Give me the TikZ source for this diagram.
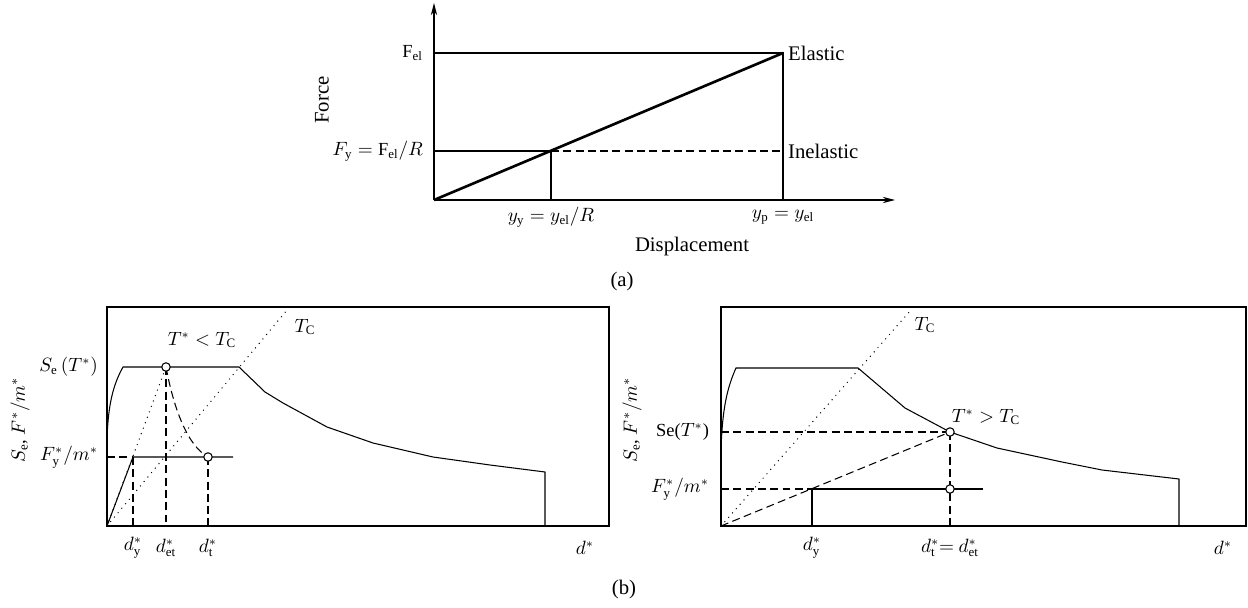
\documentclass[tikz,border=0pt]{standalone}
\usepackage{fontspec}
\setmainfont{Liberation Serif}
\usetikzlibrary{positioning,arrows.meta}

\begin{document}
\begin{tikzpicture}[x=0.02cm,y=-0.02cm,
  thinline/.style={line width=0.6pt},
  thickline/.style={line width=1.5pt},
  dashline/.style={line width=0.6pt,dash pattern=on 4.5pt off 2.5pt},
  dotline/.style={line width=0.8pt,line cap=round,dash pattern=on 0pt off 3.3pt},
  markcirc/.style={circle,draw,line width=0.6pt,fill=white,minimum size=4.8pt,inner sep=0pt},
  lbl/.style={inner sep=1pt,font=\fontsize{10.5}{12}\selectfont},
  txt/.style={inner sep=1pt,font=\fontsize{11.8}{13}\selectfont}]
\useasboundingbox (0,0) rectangle (1248,608);

\coordinate (O) at (434,200);
\coordinate (Ytop) at (434,3);
\coordinate (Xend) at (895,200);
\coordinate (El) at (783,53);
\coordinate (Yld) at (551,151);
\draw[thinline,-{Stealth[length=7pt,width=3.6pt]}] (O) -- (Ytop);
\draw[thinline,-{Stealth[length=7pt,width=3.6pt]}] (O) -- (Xend);
\draw[thinline] (O |- El) -- (El) -- (O -| El);
\draw[thinline] (O |- Yld) -- (Yld) -- (O -| Yld);
\draw[dashline] (Yld) -- (Yld -| El);
\draw[thickline] (O) -- (El);
\node[lbl,anchor=east] (fel) at (425,53) {$\mathrm{F}_\mathrm{el}$};
\node[lbl,anchor=east] (fy) at (425,151) {$F_\mathrm{y} = \mathrm{F}_\mathrm{el}/R$};
\node[txt,anchor=west] (elastic) at (786,53) {Elastic};
\node[txt,anchor=west] (inelastic) at (786,151) {Inelastic};
\node[lbl] (yy) at (551,217) {$y_\mathrm{y} = y_\mathrm{el}/R$};
\node[lbl] (yp) at (783,217) {$y_\mathrm{p} = y_\mathrm{el}$};
\node[txt] (disp) at (692,247) {Displacement};
\node[txt,rotate=90] (force) at (322,100) {Force};
\node[txt] (capa) at (622,282) {(a)};

\coordinate (LO) at (107,526);
\coordinate (LR) at (609,307);
\coordinate (LS) at (166,367);
\coordinate (LT) at (208,457);
\coordinate (LY) at (133,457);
\coordinate (LC) at (287,310);
\draw[thinline] (LO) rectangle (LR);
\draw[thinline] (107,440) .. controls (108,405) and (113,385) .. (123,367) -- (239,367) -- (265,392) -- (283,403) -- (327,427) -- (373,443) -- (433,457) -- (490,465) -- (545,472) -- (545,526);
\draw[dotline] (LO) -- (LC);
\draw[dotline] (LO) -- (LS);
\draw[thinline] (LO) -- (LY) -- (233,457);
\draw[dashline] (LO |- LY) -- (LY);
\draw[dashline] (LY) -- (LY |- LO);
\draw[dashline] (LS) -- (LS |- LO);
\draw[dashline] (LT) -- (LT |- LO);
\draw[dashline] (LS) .. controls (174,410) and (188,446) .. (LT);
\node[markcirc] (ls) at (LS) {};
\node[markcirc] (lt) at (LT) {};
\node[lbl] (ltc) at (305,327) {$T_\mathrm{C}$};
\node[lbl] (lcond) at (202,340) {$T^* < T_\mathrm{C}$};
\node[lbl,anchor=east] (lse) at (100,367) {$S_\mathrm{e}\,(T^*)$};
\node[lbl,anchor=east] (lfy) at (100,457) {$F_\mathrm{y}^*/m^*$};
\node[lbl] (ldy) at (133,548) {$d_\mathrm{y}^*$};
\node[lbl] (ldet) at (166,548) {$d_\mathrm{et}^*$};
\node[lbl] (ldt) at (208,548) {$d_\mathrm{t}^*$};
\node[lbl] (ld) at (585,548) {$d^*$};
\node[lbl,rotate=90] (lax) at (20,420) {$S_\mathrm{e}$, $F^*/m^*$};

\coordinate (RO) at (721,526);
\coordinate (RR) at (1246,307);
\coordinate (RS) at (950,432);
\coordinate (RT) at (950,489);
\coordinate (RY) at (812,489);
\coordinate (RC) at (911,310);
\draw[thinline] (RO) rectangle (RR);
\draw[thinline] (721,452) .. controls (722,410) and (727,388) .. (736,368) -- (858,368) -- (905,408) -- (950,432) -- (997,448) -- (1062,462) -- (1102,470) -- (1179,479) -- (1179,526);
\draw[dotline] (RO) -- (RC);
\draw[dashline] (RO) -- (RS);
\draw[dashline] (RO |- RS) -- (RS);
\draw[dashline] (RO |- RY) -- (RY);
\draw[dashline] (RS) -- (RS |- RO);
\draw[thinline] (RY |- RO) -- (RY) -- (983,489);
\node[markcirc] (rs) at (RS) {};
\node[markcirc] (rt) at (RT) {};
\node[lbl] (rtc) at (925,325) {$T_\mathrm{C}$};
\node[lbl] (rcond) at (986,417) {$T^* > T_\mathrm{C}$};
\node[lbl,anchor=east] (rse) at (711,432) {Se($T^*$)};
\node[lbl,anchor=east] (rfy) at (711,489) {$F_\mathrm{y}^*/m^*$};
\node[lbl] (rdy) at (812,548) {$d_\mathrm{y}^*$};
\node[lbl] (rdt) at (950,548) {$d_\mathrm{t}^*{=}\ d_\mathrm{et}^*$};
\node[lbl] (rd) at (1223,548) {$d^*$};
\node[lbl,rotate=90] (rax) at (632,420) {$S_\mathrm{e}$, $F^*/m^*$};
\node[txt] (capb) at (624,590) {(b)};
\end{tikzpicture}
\end{document}
